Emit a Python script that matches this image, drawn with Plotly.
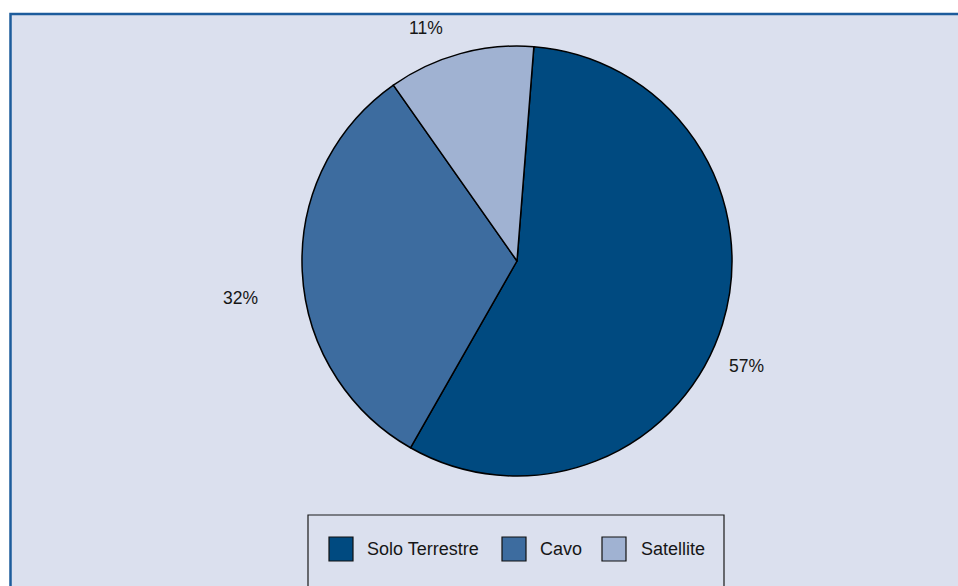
import plotly.graph_objects as go

# Audience share by reception platform
categories = ["Solo Terrestre", "Cavo", "Satellite"]
shares = [57, 32, 11]

slice_colors = ["#004a80", "#3d6c9f", "#a0b2d2"]
panel_bg = "#dbe0ee"
frame_blue = "#1d5c9c"
text_color = "#161616"
font_family = "Liberation Sans, Arial, sans-serif"

W, H = 958, 586


def px(x):
    return x / W


def py(y):
    return 1 - y / H


# Percentage label centres (pixels) and legend layout
label_pos = [(746, 366), (240, 298), (426, 28)]
legend_box = (308, 515, 724, 600)
legend_swatch_x = [329, 502, 602]
legend_text_x = [365, 538, 639]
legend_row_y = 549
swatch = 24

fig = go.Figure(
    go.Pie(
        labels=categories,
        values=shares,
        sort=False,
        direction="clockwise",
        rotation=4.5,
        textinfo="none",
        hoverinfo="label+percent",
        marker=dict(colors=slice_colors, line=dict(color="#000000", width=1.5)),
        domain=dict(x=[px(302), px(732)], y=[py(476), py(46)]),
        showlegend=False,
    )
)

shapes = [
    # panel background with blue frame
    dict(type="rect", xref="paper", yref="paper",
         x0=px(10.5), x1=1.02, y0=-0.02, y1=py(14),
         fillcolor=panel_bg, line=dict(color=frame_blue, width=2.5), layer="below"),
    # legend frame
    dict(type="rect", xref="paper", yref="paper",
         x0=px(legend_box[0]), x1=px(legend_box[2]),
         y0=py(legend_box[3]), y1=py(legend_box[1]),
         fillcolor=panel_bg, line=dict(color="#1a1a1a", width=1.2), layer="below"),
]

annotations = []
for (lx, ly), v in zip(label_pos, shares):
    annotations.append(dict(
        x=px(lx), y=py(ly), xref="paper", yref="paper",
        text=f"{v}%", showarrow=False, xanchor="center", yanchor="middle",
        font=dict(family=font_family, size=17.5, color=text_color),
    ))

for name, color, sx, tx in zip(categories, slice_colors, legend_swatch_x, legend_text_x):
    shapes.append(dict(
        type="rect", xref="paper", yref="paper",
        x0=px(sx), x1=px(sx + swatch),
        y0=py(legend_row_y + swatch / 2), y1=py(legend_row_y - swatch / 2),
        fillcolor=color, line=dict(color="#111111", width=1.2),
    ))
    annotations.append(dict(
        x=px(tx), y=py(legend_row_y), xref="paper", yref="paper",
        text=name, showarrow=False, xanchor="left", yanchor="middle",
        font=dict(family=font_family, size=18, color=text_color),
    ))

fig.update_layout(
    width=W, height=H,
    margin=dict(l=0, r=0, t=0, b=0),
    paper_bgcolor="#ffffff",
    plot_bgcolor="#ffffff",
    shapes=shapes,
    annotations=annotations,
    font=dict(family=font_family, color=text_color),
)

fig.write_html("out.html")
